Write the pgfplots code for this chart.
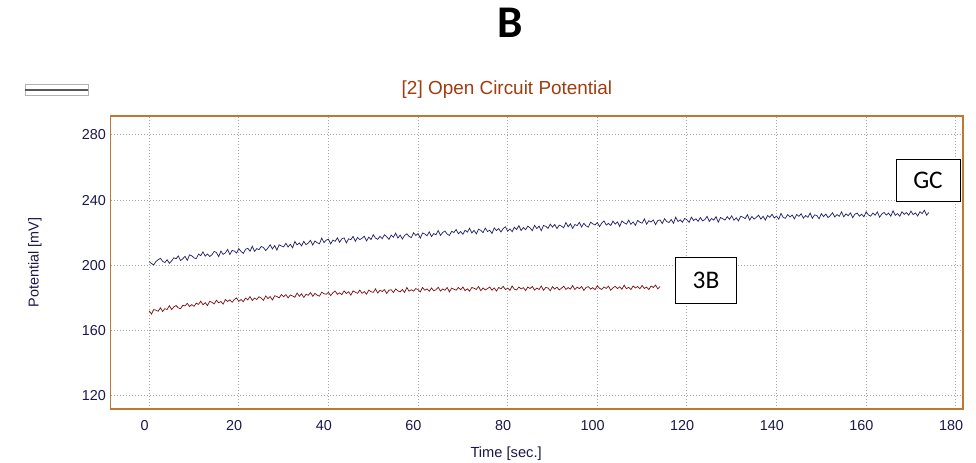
\documentclass[border=0pt]{standalone}
\usepackage{pgfplots}
\pgfplotsset{compat=1.18}
\usepackage{fontspec}
\setmainfont{Liberation Sans}
\newfontfamily\calibri{Carlito}
\definecolor{framecol}{RGB}{190,120,50}
\definecolor{titlecol}{RGB}{160,60,15}
\definecolor{ticknavy}{RGB}{25,25,75}
\definecolor{gccol}{RGB}{35,35,110}
\definecolor{tbcol}{RGB}{125,20,20}
\definecolor{gridcol}{RGB}{165,165,165}
\begin{document}
\begin{tikzpicture}
\useasboundingbox (0,0) rectangle (732pt,346.5pt);
\node[font=\calibri\bfseries\fontsize{34}{36}\selectfont] at (382.5pt,329.25pt) {B};
\draw[gray!60, line width=0.6pt, fill=white] (18.75pt,275.0pt) rectangle (66pt,283.5pt);
\draw[black!65, line width=1.1pt] (18.75pt,278.9pt) -- (66pt,278.9pt);
\begin{axis}[
  at={(83.0pt,39.75pt)}, anchor=south west,
  scale only axis, width=639.2pt, height=219.75pt,
  xmin=-8.6, xmax=181.6, ymin=112, ymax=291.6,
  xtick={0,20,...,180}, ytick={120,160,...,280},
  grid=major,
  major grid style={gridcol, line width=0.75pt, dash pattern=on 0.75pt off 1.5pt},
  axis line style={framecol, line width=1pt},
  tick style={draw=none},
  tick label style={font=\fontsize{10.8}{12}\selectfont, color=ticknavy},
  xticklabel style={yshift=-5pt, xshift=-3.5pt},
  /pgf/number format/assume math mode=true,
  every axis title shift=0pt,
  title={[2] Open Circuit Potential},
  title style={font=\fontsize{14.2}{16}\selectfont, color=titlecol, at={(axis description cs:0.465,1)}, anchor=center, yshift=19.5pt},
  xlabel={Time [sec.]},
  xlabel style={font=\fontsize{11}{13}\selectfont, color=ticknavy, at={(axis description cs:0.464,0)}, anchor=center, yshift=-33.5pt},
  ylabel={Potential [mV]},
  ylabel style={font=\fontsize{10.8}{13}\selectfont, color=ticknavy, at={(axis description cs:-0.0888,0.5)}, anchor=center},
]
\addplot[gccol, line width=0.55pt] table[row sep=\\] {
x y\\
0 202.3\\ 0.5 201.2\\ 1 200.3\\ 1.5 202.4\\ 2 203.5\\ 2.5 204.4\\ 3 202.5\\ 3.5 201.8\\ 4 203.5\\ 4.5 201.3\\
5 202.8\\ 5.5 204.7\\ 6 204.1\\ 6.5 205.8\\ 7 203.0\\ 7.5 204.1\\ 8 205.6\\ 8.5 203.1\\ 9 206.5\\ 9.5 205.9\\
10 204.6\\ 10.5 204.2\\ 11 206.9\\ 11.5 206.0\\ 12 208.3\\ 12.5 205.7\\ 13 207.0\\ 13.5 205.5\\ 14 206.5\\ 14.5 208.6\\
15 207.9\\ 15.5 205.4\\ 16 208.8\\ 16.5 206.8\\ 17 207.7\\ 17.5 209.8\\ 18 206.7\\ 18.5 209.2\\ 19 208.8\\ 19.5 207.6\\
20 210.3\\ 20.5 208.6\\ 21 207.4\\ 21.5 209.9\\ 22 210.5\\ 22.5 208.7\\ 23 211.8\\ 23.5 208.6\\ 24 210.3\\ 24.5 209.7\\
25 211.6\\ 25.5 211.0\\ 26 209.1\\ 26.5 210.7\\ 27 212.7\\ 27.5 210.1\\ 28 212.2\\ 28.5 209.4\\ 29 212.7\\ 29.5 211.9\\
30 211.4\\ 30.5 213.6\\ 31 211.3\\ 31.5 213.0\\ 32 210.8\\ 32.5 214.7\\ 33 212.6\\ 33.5 213.8\\ 34 212.0\\ 34.5 214.7\\
35 212.7\\ 35.5 213.7\\ 36 215.4\\ 36.5 212.5\\ 37 215.0\\ 37.5 213.9\\ 38 213.3\\ 38.5 216.8\\ 39 214.0\\ 39.5 215.5\\
40 216.1\\ 40.5 213.2\\ 41 215.5\\ 41.5 214.8\\ 42 216.9\\ 42.5 214.2\\ 43 216.4\\ 43.5 216.9\\ 44 213.8\\ 44.5 216.3\\
45 215.8\\ 45.5 217.8\\ 46 214.8\\ 46.5 217.2\\ 47 215.8\\ 47.5 216.7\\ 48 217.9\\ 48.5 215.0\\ 49 217.3\\ 49.5 215.9\\
50 218.8\\ 50.5 216.8\\ 51 216.0\\ 51.5 217.9\\ 52 216.4\\ 52.5 218.8\\ 53 217.6\\ 53.5 216.0\\ 54 218.6\\ 54.5 217.3\\
55 219.8\\ 55.5 216.8\\ 56 218.6\\ 56.5 216.2\\ 57 218.4\\ 57.5 219.4\\ 58 217.8\\ 58.5 217.1\\ 59 220.0\\ 59.5 218.4\\
60 219.5\\ 60.5 216.7\\ 61 219.9\\ 61.5 219.3\\ 62 218.2\\ 62.5 220.6\\ 63 217.7\\ 63.5 219.5\\ 64 218.8\\ 64.5 221.4\\
65 218.4\\ 65.5 220.2\\ 66 221.1\\ 66.5 219.2\\ 67 218.4\\ 67.5 220.9\\ 68 220.2\\ 68.5 222.0\\ 69 219.4\\ 69.5 220.8\\
70 219.1\\ 70.5 221.6\\ 71 220.4\\ 71.5 222.8\\ 72 219.9\\ 72.5 221.5\\ 73 219.3\\ 73.5 222.2\\ 74 221.5\\ 74.5 220.1\\
75 222.9\\ 75.5 220.8\\ 76 221.6\\ 76.5 219.6\\ 77 223.0\\ 77.5 221.4\\ 78 222.6\\ 78.5 220.5\\ 79 222.6\\ 79.5 223.7\\
80 221.0\\ 80.5 222.4\\ 81 220.7\\ 81.5 223.4\\ 82 222.0\\ 82.5 224.4\\ 83 221.4\\ 83.5 223.2\\ 84 221.9\\ 84.5 224.1\\
85 223.0\\ 85.5 221.3\\ 86 224.6\\ 86.5 222.6\\ 87 224.1\\ 87.5 221.3\\ 88 224.5\\ 88.5 224.0\\ 89 222.7\\ 89.5 225.3\\
90 223.5\\ 90.5 225.1\\ 91 222.6\\ 91.5 224.7\\ 92 224.1\\ 92.5 223.1\\ 93 226.3\\ 93.5 223.7\\ 94 225.5\\ 94.5 222.7\\
95 225.1\\ 95.5 224.4\\ 96 226.4\\ 96.5 223.5\\ 97 225.8\\ 97.5 224.2\\ 98 223.5\\ 98.5 226.5\\ 99 225.5\\ 99.5 224.8\\
100 226.3\\ 100.5 223.8\\ 101 226.0\\ 101.5 227.3\\ 102 224.7\\ 102.5 225.8\\ 103 224.5\\ 103.5 227.2\\ 104 225.3\\ 104.5 226.7\\
105 223.9\\ 105.5 227.3\\ 106 226.1\\ 106.5 225.3\\ 107 227.8\\ 107.5 225.2\\ 108 226.7\\ 108.5 224.6\\ 109 227.6\\ 109.5 226.5\\
110 225.9\\ 110.5 228.5\\ 111 225.3\\ 111.5 227.4\\ 112 226.6\\ 112.5 227.9\\ 113 225.0\\ 113.5 227.5\\ 114 227.9\\ 114.5 225.7\\
115 228.6\\ 115.5 226.9\\ 116 226.3\\ 116.5 228.2\\ 117 225.8\\ 117.5 229.6\\ 118 226.9\\ 118.5 227.9\\ 119 226.5\\ 119.5 228.8\\
120 228.0\\ 120.5 226.4\\ 121 229.6\\ 121.5 227.6\\ 122 228.6\\ 122.5 227.0\\ 123 229.4\\ 123.5 227.3\\ 124 228.1\\ 124.5 230.1\\
125 227.0\\ 125.5 228.8\\ 126 227.8\\ 126.5 229.9\\ 127 226.5\\ 127.5 229.4\\ 128 228.6\\ 128.5 227.8\\ 129 229.9\\ 129.5 228.3\\
130 230.4\\ 130.5 227.7\\ 131 229.2\\ 131.5 227.3\\ 132 230.1\\ 132.5 229.6\\ 133 228.7\\ 133.5 231.1\\ 134 227.8\\ 134.5 230.0\\
135 228.4\\ 135.5 229.5\\ 136 230.8\\ 136.5 228.4\\ 137 230.1\\ 137.5 227.8\\ 138 230.6\\ 138.5 229.5\\ 139 231.4\\ 139.5 229.1\\
140 230.2\\ 140.5 228.4\\ 141 231.9\\ 141.5 229.4\\ 142 228.9\\ 142.5 231.2\\ 143 229.7\\ 143.5 230.9\\ 144 228.5\\ 144.5 231.2\\
145 230.1\\ 145.5 231.7\\ 146 229.0\\ 146.5 230.6\\ 147 229.5\\ 147.5 232.1\\ 148 228.9\\ 148.5 231.0\\ 149 230.6\\ 149.5 228.6\\
150 231.8\\ 150.5 229.9\\ 151 231.5\\ 151.5 229.3\\ 152 230.6\\ 152.5 232.3\\ 153 229.7\\ 153.5 231.2\\ 154 230.1\\ 154.5 232.8\\
155 229.8\\ 155.5 231.6\\ 156 230.5\\ 156.5 232.2\\ 157 229.3\\ 157.5 231.5\\ 158 232.1\\ 158.5 230.2\\ 159 231.4\\ 159.5 229.8\\
160 232.9\\ 160.5 231.0\\ 161 230.2\\ 161.5 232.1\\ 162 230.8\\ 162.5 232.8\\ 163 229.6\\ 163.5 231.5\\ 164 232.5\\ 164.5 230.9\\
165 232.1\\ 165.5 230.2\\ 166 233.5\\ 166.5 230.7\\ 167 231.8\\ 167.5 230.2\\ 168 232.9\\ 168.5 231.3\\ 169 232.4\\ 169.5 230.8\\
170 233.3\\ 170.5 231.1\\ 171 232.2\\ 171.5 230.3\\ 172 232.9\\ 172.5 231.8\\ 173 233.8\\ 173.5 230.8\\ 174 232.5\\
};
\addplot[tbcol, line width=0.55pt] table[row sep=\\] {
x y\\
0 172.2\\ 0.5 170.2\\ 1 172.9\\ 1.5 172.6\\ 2 171.9\\ 2.5 174.0\\ 3 171.8\\ 3.5 173.5\\ 4 173.0\\ 4.5 175.3\\
5 173.0\\ 5.5 174.6\\ 6 175.4\\ 6.5 174.0\\ 7 173.5\\ 7.5 175.6\\ 8 175.2\\ 8.5 176.8\\ 9 174.8\\ 9.5 176.0\\
10 174.9\\ 10.5 176.9\\ 11 176.1\\ 11.5 178.1\\ 12 175.9\\ 12.5 177.2\\ 13 175.4\\ 13.5 178.0\\ 14 177.4\\ 14.5 176.4\\
15 178.7\\ 15.5 177.1\\ 16 177.9\\ 16.5 176.3\\ 17 179.1\\ 17.5 177.9\\ 18 178.9\\ 18.5 177.4\\ 19 179.1\\ 19.5 180.1\\
20 178.0\\ 20.5 179.1\\ 21 177.8\\ 21.5 180.0\\ 22 178.9\\ 22.5 180.9\\ 23 178.5\\ 23.5 180.0\\ 24 179.1\\ 24.5 180.8\\
25 180.0\\ 25.5 178.6\\ 26 181.3\\ 26.5 179.7\\ 27 180.9\\ 27.5 178.8\\ 28 181.4\\ 28.5 181.0\\ 29 180.1\\ 29.5 182.2\\
30 180.8\\ 30.5 182.1\\ 31 180.1\\ 31.5 181.9\\ 32 181.3\\ 32.5 180.5\\ 33 183.1\\ 33.5 181.1\\ 34 182.6\\ 34.5 180.4\\
35 182.3\\ 35.5 181.7\\ 36 183.4\\ 36.5 181.1\\ 37 182.9\\ 37.5 181.7\\ 38 181.2\\ 38.5 183.6\\ 39 182.7\\ 39.5 182.3\\
40 183.5\\ 40.5 181.5\\ 41 183.3\\ 41.5 184.3\\ 42 182.3\\ 42.5 183.2\\ 43 182.1\\ 43.5 184.4\\ 44 182.8\\ 44.5 183.9\\
45 181.8\\ 45.5 184.4\\ 46 183.6\\ 46.5 182.9\\ 47 184.9\\ 47.5 182.9\\ 48 184.0\\ 48.5 182.4\\ 49 184.9\\ 49.5 183.9\\
50 183.5\\ 50.5 185.6\\ 51 183.1\\ 51.5 184.8\\ 52 184.0\\ 52.5 185.2\\ 53 182.8\\ 53.5 184.8\\ 54 185.1\\ 54.5 183.4\\
55 185.6\\ 55.5 184.4\\ 56 183.8\\ 56.5 185.2\\ 57 183.4\\ 57.5 186.5\\ 58 184.2\\ 58.5 185.1\\ 59 184.3\\ 59.5 185.8\\
60 185.2\\ 60.5 183.8\\ 61 186.5\\ 61.5 184.8\\ 62 185.6\\ 62.5 184.2\\ 63 186.2\\ 63.5 184.5\\ 64 185.1\\ 64.5 186.6\\
65 184.3\\ 65.5 185.6\\ 66 184.8\\ 66.5 186.5\\ 67 183.8\\ 67.5 186.1\\ 68 185.4\\ 68.5 184.8\\ 69 186.5\\ 69.5 185.1\\
70 186.8\\ 70.5 184.5\\ 71 185.7\\ 71.5 184.2\\ 72 186.5\\ 72.5 186.0\\ 73 185.3\\ 73.5 187.1\\ 74 184.5\\ 74.5 186.2\\
75 185.0\\ 75.5 185.8\\ 76 186.8\\ 76.5 184.8\\ 77 186.2\\ 77.5 184.3\\ 78 186.5\\ 78.5 185.6\\ 79 187.2\\ 79.5 185.2\\
80 186.1\\ 80.5 184.7\\ 81 187.4\\ 81.5 185.4\\ 82 185.0\\ 82.5 186.8\\ 83 185.6\\ 83.5 186.4\\ 84 184.6\\ 84.5 186.8\\
85 185.8\\ 85.5 187.1\\ 86 184.9\\ 86.5 186.1\\ 87 185.3\\ 87.5 187.4\\ 88 184.8\\ 88.5 186.5\\ 89 186.2\\ 89.5 184.5\\
90 187.0\\ 90.5 185.5\\ 91 186.7\\ 91.5 185.0\\ 92 186.0\\ 92.5 187.3\\ 93 185.3\\ 93.5 186.4\\ 94 185.5\\ 94.5 187.7\\
95 185.2\\ 95.5 186.7\\ 96 185.8\\ 96.5 187.1\\ 97 184.7\\ 97.5 186.5\\ 98 187.0\\ 98.5 185.5\\ 99 186.4\\ 99.5 185.1\\
100 187.6\\ 100.5 186.0\\ 101 185.3\\ 101.5 186.8\\ 102 185.9\\ 102.5 187.3\\ 103 184.8\\ 103.5 186.3\\ 104 187.2\\ 104.5 185.8\\
105 186.9\\ 105.5 185.4\\ 106 187.9\\ 106.5 185.7\\ 107 186.6\\ 107.5 185.2\\ 108 187.4\\ 108.5 186.2\\ 109 187.1\\ 109.5 185.7\\
110 187.7\\ 110.5 185.9\\ 111 186.7\\ 111.5 185.2\\ 112 187.4\\ 112.5 186.5\\ 113 188.0\\ 113.5 185.6\\ 114 187.0\\
};
\end{axis}
\node[draw=black, line width=0.6pt, fill=white, minimum width=48pt, minimum height=31.5pt, inner sep=0pt, font=\calibri\fontsize{19}{21}\selectfont] at (696pt,211.5pt) {GC};
\node[draw=black, line width=0.6pt, fill=white, minimum width=45.75pt, minimum height=34.5pt, inner sep=0pt, font=\calibri\fontsize{19}{21}\selectfont] at (529.5pt,136.5pt) {3B};
\end{tikzpicture}
\end{document}
